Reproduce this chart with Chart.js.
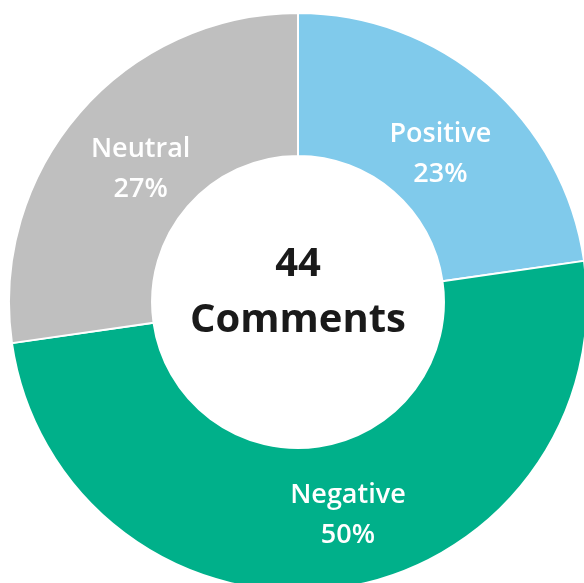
<!DOCTYPE html>
<html>
<head>
<meta charset="utf-8">
<script src="https://cdn.jsdelivr.net/npm/chart.js@4/dist/chart.umd.min.js"></script>
<style>
  html, body { margin: 0; padding: 0; background: #fff; overflow: hidden; width: 584px; height: 583px; }
  #wrap { position: absolute; left: 8px; top: 12px; width: 580px; height: 580px; }
</style>
</head>
<body>
<div id="wrap"><canvas id="graphiqueCommentaires"></canvas></div>
<script>
// Données du graphique
const categories = ['Positive', 'Negative', 'Neutral'];
const comptes = [10, 22, 12];
const couleurs = ['#80caeb', '#00b08a', '#bfbfbf'];
const totalLabel = ['44', 'Comments'];

const total = comptes.reduce((a, b) => a + b, 0);

// Petits décalages des étiquettes (style uniquement)
const decalages = [[0, 17], [19, -2], [7, 10]];

// Plugin pour les étiquettes dans les arcs + texte central
const etiquettes = {
    id: 'etiquettes',
    afterDatasetsDraw(chart) {
        const ctx = chart.ctx;
        const meta = chart.getDatasetMeta(0);
        ctx.save();
        ctx.textAlign = 'center';
        ctx.textBaseline = 'middle';
        ctx.fillStyle = '#ffffff';
        ctx.font = '600 27px "Open Sans", sans-serif';
        meta.data.forEach((arc, i) => {
            const p = arc.tooltipPosition();
            const x = p.x + decalages[i][0];
            const y = p.y + decalages[i][1];
            const pct = Math.round(comptes[i] / total * 100) + '%';
            ctx.fillText(categories[i], x, y - 20);
            ctx.fillText(pct, x, y + 20);
        });
        const c = meta.data[0];
        ctx.fillStyle = '#1a1a1a';
        ctx.font = '700 40px "Open Sans", sans-serif';
        ctx.fillText(totalLabel[0], c.x, c.y - 37);
        ctx.fillText(totalLabel[1], c.x, c.y + 19);
        ctx.restore();
    }
};

const ctx = document.getElementById('graphiqueCommentaires').getContext('2d');
const chart = new Chart(ctx, {
    type: 'doughnut',
    data: {
        labels: categories,
        datasets: [{
            data: comptes,
            backgroundColor: couleurs,
            borderColor: '#ffffff',
            borderWidth: 2
        }]
    },
    options: {
        responsive: true,
        maintainAspectRatio: false,
        animation: false,
        cutout: '50.5%',
        layout: { padding: 0 },
        plugins: {
            legend: { display: false },
            tooltip: { enabled: false }
        }
    },
    plugins: [etiquettes]
});
</script>
</body>
</html>
